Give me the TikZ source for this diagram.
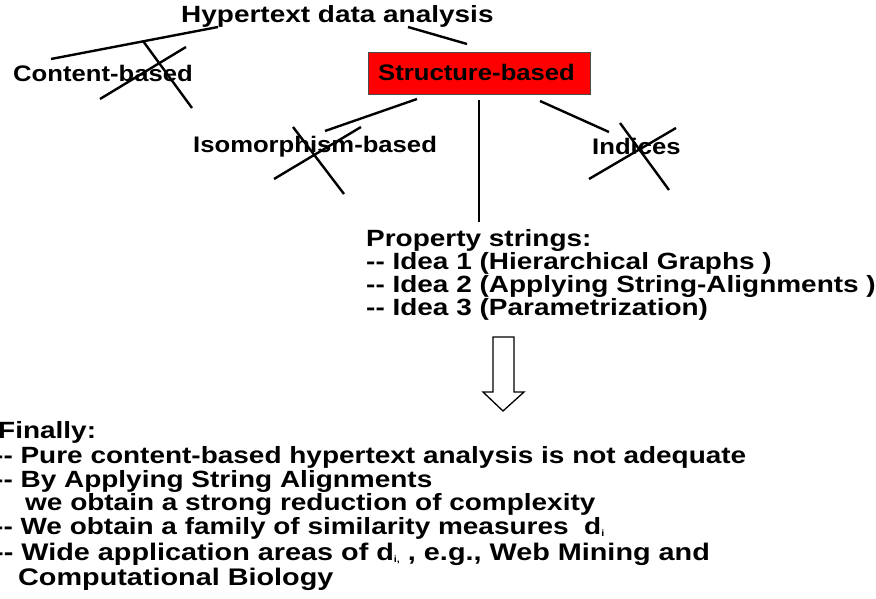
\documentclass[tikz,border=0pt]{standalone}
\usepackage{fontspec}
\setmainfont{Liberation Sans}
\usepackage{graphicx}
\newcommand{\hx}[1]{\scalebox{1.19}[1]{#1}}
\newcommand{\hy}[1]{\scalebox{1.14}[1]{#1}}
\newcommand{\hz}[1]{\scalebox{1.2}[1]{#1}}
\newcommand{\subi}[1]{\raisebox{-2.5pt}{\fontsize{9}{9}\selectfont #1}}
\begin{document}
\begin{tikzpicture}[x=1pt,y=-1pt,
  title/.style={inner sep=0pt, anchor=base west, font=\fontsize{23.5}{27}\selectfont\bfseries},
  lbl/.style={inner sep=0pt, anchor=base west, font=\fontsize{22.5}{27}\selectfont\bfseries},
  prop/.style={inner sep=0pt, anchor=base west, font=\fontsize{23.5}{27}\selectfont\bfseries},
  fin/.style={inner sep=0pt, anchor=base west, font=\fontsize{23.5}{27}\selectfont\bfseries},
  finb/.style={inner sep=0pt, anchor=base west, font=\fontsize{24}{28}\selectfont\bfseries},
  stroke/.style={line width=2.4pt, black},
  redbox/.style={fill=red, draw=black!70, line width=0.8pt},
  hollowarrow/.style={fill=white, draw=black, line width=1.3pt, line join=miter}]
\useasboundingbox (0,0) rectangle (876,599);

% top labels
\node[title] (hda) at (181,23) {\hx{Hypertext data analysis}};
\node[lbl] (cb) at (13,82) {\hy{Content-based}};
\draw[redbox] (368,52) rectangle (590,94);
\node[lbl] (sb) at (378,81) {\hy{Structure-based}};
\node[lbl] (iso) at (193,153) {\hy{Isomorphism-based}};
\node[lbl] (ind) at (592,155) {\hy{Indices}};

% connector end points
\coordinate (h1) at (218,27);
\coordinate (h2) at (51,59);
\coordinate (h3) at (408,27);
\coordinate (h4) at (467,44);
\coordinate (s1) at (417,99);
\coordinate (s2) at (325,131);
\coordinate (s3) at (479,100);
\coordinate (s4) at (479,222);
\coordinate (s5) at (540,101);
\coordinate (s6) at (609,132);

\draw[stroke] (h1) -- (h2);
\draw[stroke] (h3) -- (h4);
\draw[stroke] (s1) -- (s2);
\draw[stroke] (s3) -- (s4);
\draw[stroke] (s5) -- (s6);

% crosses
\draw[stroke] (143,41) -- (192,108);
\draw[stroke] (100,99) -- (186,47);
\draw[stroke] (293,127) -- (344,194);
\draw[stroke] (274,179) -- (361,127);
\draw[stroke] (620,123) -- (669,190);
\draw[stroke] (589,179) -- (676,128);

% property strings
\node[prop] (p0) at (366,246) {\hx{Property strings:}};
\node[prop] (p1) at (366,269) {\hx{-{}- Idea 1 (Hierarchical Graphs )}};
\node[prop] (p2) at (366,292) {\hx{-{}- Idea 2 (Applying String-Alignments )}};
\node[prop] (p3) at (366,315) {\hx{-{}- Idea 3 (Parametrization)}};

% hollow arrow
\draw[hollowarrow] (493,337) -- (514,337) -- (514,392) -- (524,392) -- (503,411) -- (483,392) -- (493,392) -- cycle;

% final block
\node[fin] (f0) at (-2,438) {\hx{Finally:}};
\node[fin] (f1) at (-6,463) {\hx{-{}- Pure content-based hypertext analysis is not adequate}};
\node[fin] (f2) at (-6,487) {\hx{-{}- By Applying String Alignments}};
\node[fin] (f3) at (25,510) {\hx{we obtain a strong reduction of complexity}};
\node[fin] (f4) at (-6,534) {\hx{-{}- We obtain a family of similarity measures \ d\subi{i}}};
\node[finb] (f5) at (-6,560) {\hz{-{}- Wide application areas of d\subi{i,} , e.g., Web Mining and}};
\node[finb] (f6) at (18,585) {\hz{Computational Biology}};
\end{tikzpicture}
\end{document}
